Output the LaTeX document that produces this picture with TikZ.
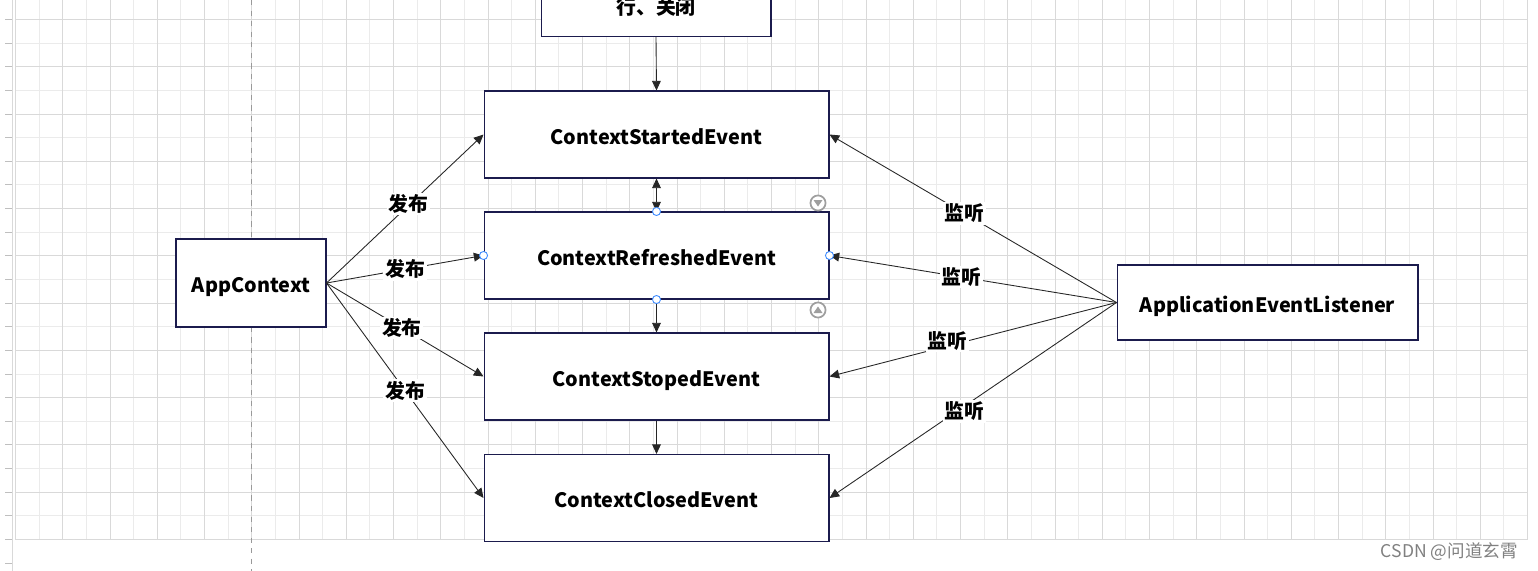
\documentclass[tikz,border=0pt]{standalone}
\usepackage{fontspec}
\setmainfont{Noto Sans CJK SC}
\usepackage{tikz}
\usetikzlibrary{arrows.meta}

\definecolor{boxline}{HTML}{1B1B4D}
\definecolor{arrowgray}{HTML}{262626}
\definecolor{majorgrid}{HTML}{D9D9D9}
\definecolor{minorgrid}{HTML}{EBEBEB}
\definecolor{handleblue}{HTML}{3D8BFF}

\begin{document}
\begin{tikzpicture} [x=0.02cm,y=-0.02cm,
		evbox/.style={draw=boxline,fill=white,line width=0.6pt,minimum width=6.9cm,minimum height=1.74cm,inner sep=0pt,text height=11.2pt,text depth=0pt,font=\bfseries\fontsize{11.3}{13}\selectfont},
		flow/.style={draw=arrowgray,line width=0.5pt,-{Triangle[length=5.5pt,width=5pt]}},
		twoway/.style={flow,{Triangle[length=5.5pt,width=5pt]}-{Triangle[length=5.5pt,width=5pt]}},
		tag/.style={fill=white,inner sep=1pt,font=\bfseries\fontsize{11.3}{13}\selectfont},
		handle/.style={draw=handleblue,fill=white,line width=0.5pt}]
			\useasboundingbox (0,0) rectangle (1538,571);
			\clip (0,0) rectangle (1538,571);
			% grid
			\foreach \i in {0,...,64}
			{
				\draw[minorgrid,line width=0.02cm] ({round(15+23.625*\i)+0.5},0) -- ({round(15+23.625*\i)+0.5},539.5);
			}
			\foreach \j in {-1,...,22}
			{
				\draw[minorgrid,line width=0.02cm] (15,{round(19+23.636*\j)+0.5}) -- (1528,{round(19+23.636*\j)+0.5});
			}
			\foreach \i in {0,...,32}
			{
				\draw[majorgrid,line width=0.02cm] ({round(15+47.25*\i)+0.5},0) -- ({round(15+47.25*\i)+0.5},539.5);
			}
			\foreach \j in {0,...,11}
			{
				\draw[majorgrid,line width=0.02cm] (15,{round(19+47.27*\j)+0.5}) -- (1528,{round(19+47.27*\j)+0.5});
			}
			% ruler
			\draw[majorgrid,line width=0.02cm] (12.5,0) -- (12.5,571);
			\foreach \j in {0,...,23}
			{
				\draw[gray!50,line width=0.02cm] (5,{round(19+23.636*\j)+0.5}) -- (12,{round(19+23.636*\j)+0.5});
			}
			\draw[gray!80,dashed,line width=0.5pt] (251.5,0) -- (251.5,571);

			% boxes
			\node[evbox,minimum width=4.6cm,minimum height=2cm,anchor=south] (topbox) at (656,37) {};
			\node[font=\bfseries\fontsize{11.3}{13}\selectfont] (toptxt) at (656,7) {行、关闭};
			\node[evbox] (started) at (656.5,134.5) {ContextStartedEvent};
			\node[evbox] (refreshed) at (656.5,255.5) {ContextRefreshedEvent};
			\node[evbox] (stoped) at (656.5,376.5) {ContextStopedEvent};
			\node[evbox] (closed) at (656.5,498) {ContextClosedEvent};
			\node[evbox,minimum width=3cm,minimum height=1.76cm] (appctx) at (251,283) {AppContext};
			\node[evbox,minimum width=6.02cm,minimum height=1.5cm] (listener) at (1267.5,302.5) {ApplicationEventListener};

			% flow down
			\draw[flow] (topbox.south) -- (started.north);
			\draw[twoway] (started.south) -- (refreshed.north);
			\draw[flow] (refreshed.south) -- (stoped.north);
			\draw[flow] (stoped.south) -- (closed.north);

			% publish
			\draw[flow] (appctx.east) -- node[tag,pos=0.52,yshift=1pt] {发布} (started.west);
			\draw[flow] (appctx.east) -- node[tag] {发布} (refreshed.west);
			\draw[flow] (appctx.east) -- node[tag,pos=0.48] {发布} (stoped.west);
			\draw[flow] (appctx.east) -- node[tag] {发布} (closed.west);

			% listen
			\draw[flow] (listener.west) -- node[tag,pos=0.53] {监听} (started.east);
			\draw[flow] (listener.west) -- node[tag,pos=0.54] {监听} (refreshed.east);
			\draw[flow] (listener.west) -- node[tag,pos=0.59,yshift=3pt] {监听} (stoped.east);
			\draw[flow] (listener.west) -- node[tag,pos=0.53,yshift=-3pt] {监听} (closed.east);

			% selection marks
			\foreach \a in {north,south,west,east}
			{
				\draw[handle] (refreshed.\a) circle (2.3pt);
			}
			\draw[gray!75,line width=1pt,fill=white] (818,203) circle (4.3pt);
			\fill[gray!75] (813.5,200) -- (822.5,200) -- (818,206.5) -- cycle;
			\draw[gray!75,line width=1pt,fill=white] (818,310) circle (4.3pt);
			\fill[gray!75] (813.5,313) -- (822.5,313) -- (818,306.5) -- cycle;

			\node[anchor=east,text=gray,font=\fontsize{10}{12}\selectfont] (mark) at (1524,552) {CSDN @问道玄霄};
		\end{tikzpicture}
\end{document}
